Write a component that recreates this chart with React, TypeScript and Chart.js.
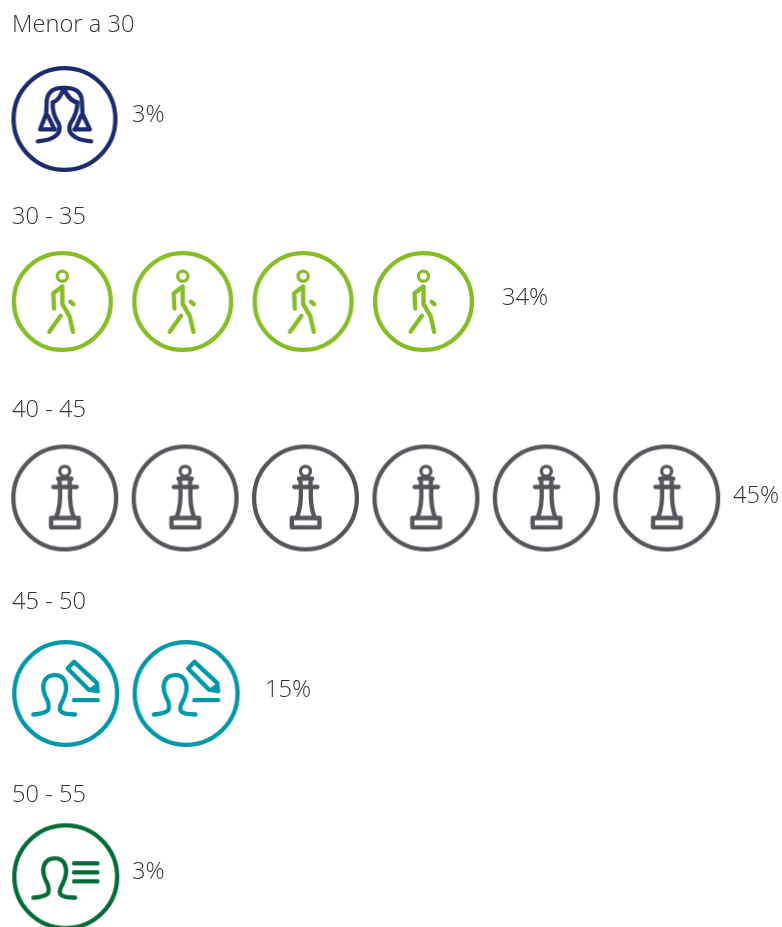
import React, { useEffect, useRef } from "react";
import { Chart, registerables } from "chart.js";

Chart.register(...registerables);

// ---- data ----
const categories = ["Menor a 30", "30 - 35", "40 - 45", "45 - 50", "50 - 55"];
const shares = [3, 34, 45, 15, 3];
const iconCounts = [1, 4, 6, 2, 1];

// ---- styling and layout (pixels) ----
const WIDTH = 782;
const HEIGHT = 927;
const FONT = '300 23.7px "Open Sans"';
const TEXT = "#333333";
const SLOT = 120.4;
const FIRST_X = 64.5;
const ROW = 192.5;
const FIRST_Y = 23;
const CATEGORY_DROP = 2;
const colors = ["#1c2a6e", "#86bc25", "#53565a", "#0097a9", "#046a38"];
const radii = [53, 50.5, 53.5, 53.5, 53.5];
const rowShift = [0, -2.2, 0.2, 1.2, 1.2];
const iconDrop = [96, 86, 90, 93, 83.7];
const shareX = [132, 502, 733, 265, 132];
const shareDrop = [92, 83, 88, 90, 79];

type Ctx = CanvasRenderingContext2D;

function strokePath(c: Ctx, d: string) {
  c.stroke(new Path2D(d));
}

function head(c: Ctx, y: number, r: number) {
  c.save();
  c.lineWidth = 10;
  c.beginPath();
  c.arc(0, y, r, 0, Math.PI * 2);
  c.stroke();
  c.restore();
}

function person(c: Ctx) {
  strokePath(
    c,
    "M-97 63 C-47 58 -47 48 -54 23 C-82 -27 -62 -55 -32 -55 C-2 -55 13 -22 -10 23 C-27 53 -17 63 28 63"
  );
}

const glyphs: ((c: Ctx) => void)[] = [
  // woman
  (c) => {
    strokePath(
      c,
      "M-28 31 L-73 31 L-55 -15 L-53 -57 C-50 -85 -25 -96 -3 -93 C25 -96 50 -85 52 -57 L54 -15 L76 31 L30 31"
    );
    strokePath(c, "M-35 -50 C-18 -55 -8 -75 -3 -93 C5 -75 15 -55 38 -50");
    strokePath(c, "M-35 -50 C-37 -30 -30 -5 -17 15 C-8 40 -25 63 -80 67 M38 -50 C40 -30 30 -5 17 15 C8 40 25 63 80 67");
    strokePath(c, "M-50 -10 L-30 31 M50 -10 L32 31");
  },
  // walker
  (c) => {
    head(c, -76, 15);
    strokePath(c, "M-25 21 L-27 -25 L0 -45 L0 8 L21 43 L32 91 M24 1 L33 8 M-5 43 L-39 91");
  },
  // queen
  (c) => {
    head(c, -80, 15);
    strokePath(c, "M-34 -33 L36 -33 M-20 -58 L20 -58 M-16 -58 L-14 -33 M16 -58 L14 -33");
    strokePath(c, "M-14 -30 C-12 15 -17 40 -27 60 M16 -30 C14 15 19 40 28 60");
    c.strokeRect(-41, 60, 83, 28);
  },
  // person with pen
  (c) => {
    person(c);
    strokePath(c, "M25 -95 L93 -32 L96 -7 L68 -12 L6 -75 Z");
    c.fillStyle = c.strokeStyle;
    c.fill(new Path2D("M93 -32 L96 -7 L68 -12 Z"));
    strokePath(c, "M25 20 L96 20");
  },
  // person with text lines
  (c) => {
    person(c);
    strokePath(c, "M25 -40 L95 -40 M25 -13 L95 -13 M25 14 L95 14");
  },
];

function makeIcon(row: number): HTMLCanvasElement {
  const r = radii[row];
  const size = Math.ceil(r * 2 + 4);
  const cv = document.createElement("canvas");
  cv.width = size;
  cv.height = size;
  const c = cv.getContext("2d")!;
  c.translate(size / 2, size / 2);
  c.strokeStyle = colors[row];
  c.lineCap = "round";
  c.lineJoin = "round";
  c.lineWidth = 4.3;
  c.beginPath();
  c.arc(0, 0, r - 2.1, 0, Math.PI * 2);
  c.stroke();
  c.scale(1 / 3, 1 / 3);
  c.lineWidth = 13;
  glyphs[row](c);
  return cv;
}

const textPlugin = {
  id: "rowText",
  afterDatasetsDraw(chart: any) {
    const { ctx, scales } = chart;
    ctx.save();
    ctx.font = FONT;
    ctx.fontKerning = "normal";
    ctx.fillStyle = TEXT;
    ctx.textBaseline = "middle";
    ctx.textAlign = "left";
    categories.forEach((name, r) => {
      ctx.fillText(name, 12, scales.y.getPixelForValue(r + CATEGORY_DROP / ROW));
      ctx.fillText(`${shares[r]}%`, shareX[r], scales.y.getPixelForValue(r + shareDrop[r] / ROW));
    });
    ctx.restore();
  },
};

export default function App() {
  const ref = useRef<HTMLCanvasElement>(null);
  useEffect(() => {
    const chart = new Chart(ref.current!, {
      type: "scatter",
      data: {
        datasets: categories.map((name, r) => ({
          label: name,
          data: Array.from({ length: iconCounts[r] }, (_, i) => ({
            x: i + rowShift[r] / SLOT,
            y: r + iconDrop[r] / ROW,
          })),
          pointStyle: makeIcon(r),
          pointRadius: radii[r],
          clip: false as any,
        })),
      },
      options: {
        animation: false,
        responsive: false,
        layout: { padding: 0, autoPadding: false },
        plugins: { legend: { display: false }, tooltip: { enabled: false }, title: { display: false } },
        scales: {
          x: { type: "linear", display: false, bounds: "data", min: -FIRST_X / SLOT, max: (WIDTH - FIRST_X) / SLOT },
          y: { type: "linear", display: false, bounds: "data", reverse: true, min: -FIRST_Y / ROW, max: (HEIGHT - FIRST_Y) / ROW },
        },
      },
      plugins: [textPlugin],
    } as any);
    return () => chart.destroy();
  }, []);
  return (
    <canvas
      ref={ref}
      width={WIDTH}
      height={HEIGHT}
      style={{ position: "fixed", left: 0, top: 0, width: WIDTH, height: HEIGHT, display: "block" }}
    />
  );
}
